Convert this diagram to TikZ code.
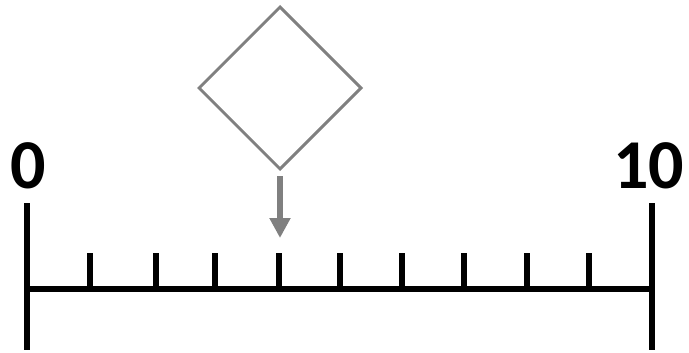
\documentclass[tikz,border=0pt]{standalone}
\usepackage{fontspec}
\setmainfont{Carlito}
\usetikzlibrary{shapes.geometric,arrows.meta,positioning}

\begin{document}
\begin{tikzpicture}[x=1pt, y=-1pt,
    axis/.style={line width=6pt},
    endlabel/.style={font=\fontsize{70}{70}\selectfont\bfseries, inner sep=0pt, anchor=base}]
  \useasboundingbox (0,0) rectangle (689,353);

  % marker above the scale
  \node[diamond, draw=gray, line width=3pt, minimum size=163pt, inner sep=0pt] (choice) at (280,88) {};
  \coordinate (mark) at (280,238);
  \draw[gray, line width=6pt, -{Triangle[width=20pt, length=20pt]}]
    ([yshift=-5pt]choice.south) -- (mark);

  % the scale
  \coordinate (start) at (27,289);
  \coordinate (end) at (652,289);
  \draw[axis] (start) -- (end);
  \draw[axis] ([yshift=86pt]start) -- ([yshift=-61pt]start);
  \draw[axis] ([yshift=86pt]end) -- ([yshift=-61pt]end);
  \foreach \x in {90,156,215,279,340,402,464,527,589}
    \draw[axis] (\x,289) -- (\x,253);

  \node[endlabel] (zero) at (28.5,189) {0};
  \node[endlabel] (ten) at (648.5,189) {10};
\end{tikzpicture}
\end{document}
